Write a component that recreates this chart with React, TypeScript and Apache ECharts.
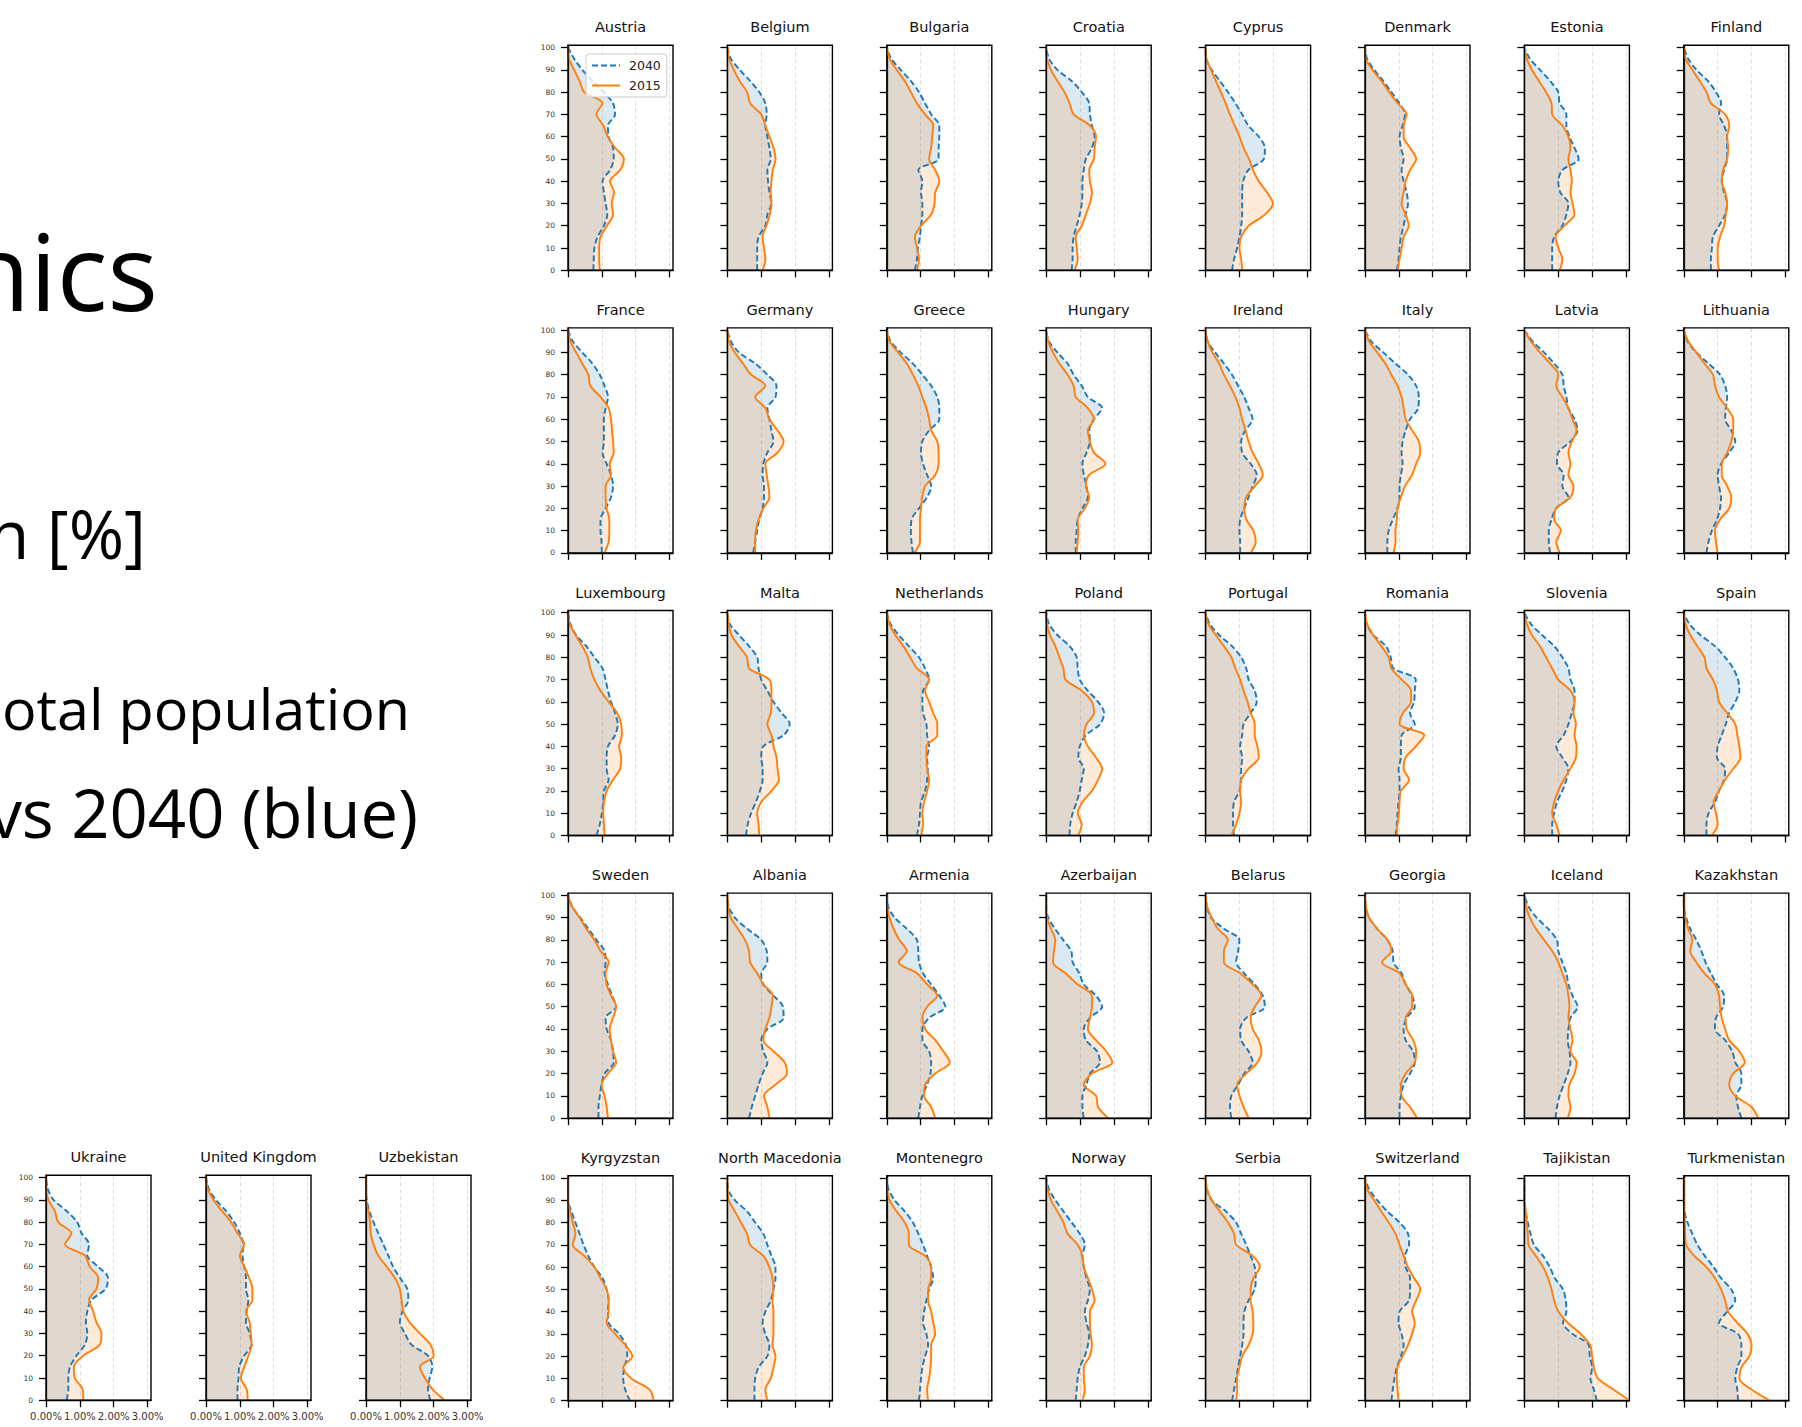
import React, { useEffect, useRef } from 'react';
import * as echarts from 'echarts';

// ---------- data ----------
const AGES = [0, 5, 10, 15, 20, 25, 30, 35, 40, 45, 50, 55, 60, 65, 70, 75, 80, 85, 90, 95, 100];
const X_TICKS = [0, 1, 2, 3];
const AGE_CATEGORIES = Array.from({ length: 102 }, (_, i) => String(i));
const SERIES_NAMES = ['2040', '2015'];

const AUSTRIA_2015 = [0.94, 0.92, 0.92, 0.96, 1.15, 1.33, 1.29, 1.36, 1.24, 1.54, 1.65, 1.39, 1.17, 1.04, 0.84, 1.02, 0.48, 0.34, 0.18, 0.03, 0];
const AUSTRIA_2040 = [0.75, 0.76, 0.78, 0.87, 1.06, 1.16, 1.11, 1.06, 1.02, 1.24, 1.35, 1.33, 1.2, 1.18, 1.39, 1.33, 1.05, 0.72, 0.42, 0.18, 0];
const BELGIUM_2015 = [1.04, 1.12, 1.08, 1.04, 1.15, 1.25, 1.3, 1.28, 1.3, 1.34, 1.42, 1.36, 1.24, 1.12, 1.0, 0.67, 0.58, 0.36, 0.19, 0.05, 0];
const BELGIUM_2040 = [0.88, 0.88, 0.88, 0.92, 1.12, 1.18, 1.3, 1.24, 1.2, 1.18, 1.28, 1.24, 1.18, 1.12, 1.16, 1.12, 0.94, 0.67, 0.36, 0.1, 0];
const BULGARIA_2015 = [0.89, 0.95, 0.89, 0.83, 1.01, 1.31, 1.41, 1.43, 1.55, 1.43, 1.25, 1.31, 1.34, 1.37, 1.13, 0.89, 0.71, 0.53, 0.29, 0.08, 0];
const BULGARIA_2040 = [0.83, 0.89, 0.92, 0.98, 1.01, 1.05, 1.05, 1.01, 1.05, 0.93, 1.53, 1.53, 1.55, 1.55, 1.31, 1.13, 0.95, 0.71, 0.41, 0.13, 0];
const CROATIA_2015 = [0.83, 0.93, 0.9, 0.87, 1.05, 1.17, 1.29, 1.35, 1.29, 1.27, 1.41, 1.43, 1.47, 1.29, 0.81, 0.69, 0.54, 0.33, 0.14, 0.02, 0];
const CROATIA_2040 = [0.75, 0.78, 0.78, 0.81, 0.9, 0.99, 1.05, 1.07, 1.07, 1.11, 1.17, 1.35, 1.43, 1.35, 1.29, 1.27, 1.05, 0.75, 0.33, 0.08, 0];
const CYPRUS_2015 = [1.08, 1.05, 1.0, 1.05, 1.27, 1.75, 1.99, 1.81, 1.57, 1.4, 1.28, 1.12, 1.0, 0.86, 0.72, 0.59, 0.45, 0.3, 0.16, 0.02, 0];
const CYPRUS_2040 = [0.78, 0.84, 0.93, 1.0, 1.05, 1.08, 1.08, 1.08, 1.11, 1.26, 1.72, 1.75, 1.57, 1.26, 1.08, 0.88, 0.66, 0.42, 0.18, 0.02, 0];
const DENMARK_2015 = [0.96, 1.02, 1.08, 1.14, 1.29, 1.2, 1.08, 1.14, 1.2, 1.33, 1.51, 1.33, 1.14, 1.14, 1.23, 0.96, 0.72, 0.48, 0.22, 0.02, 0];
const DENMARK_2040 = [0.94, 0.99, 1.02, 1.06, 1.14, 1.2, 1.27, 1.23, 1.14, 1.08, 1.14, 1.06, 1.02, 1.11, 1.18, 1.02, 0.78, 0.54, 0.27, 0.06, 0];
const ESTONIA_2015 = [1.04, 1.12, 1.0, 0.92, 1.18, 1.48, 1.42, 1.36, 1.4, 1.36, 1.3, 1.36, 1.3, 1.12, 0.82, 0.8, 0.64, 0.43, 0.22, 0.07, 0];
const ESTONIA_2040 = [0.82, 0.82, 0.82, 0.88, 1.12, 1.24, 1.3, 1.06, 1.0, 1.12, 1.6, 1.48, 1.33, 1.24, 1.24, 1.04, 1.0, 0.76, 0.46, 0.16, 0];
const FINLAND_2015 = [1.04, 1.0, 1.0, 1.07, 1.19, 1.24, 1.28, 1.22, 1.12, 1.16, 1.28, 1.31, 1.28, 1.34, 1.22, 0.8, 0.67, 0.47, 0.25, 0.05, 0];
const FINLAND_2040 = [0.8, 0.8, 0.83, 0.86, 1.04, 1.22, 1.28, 1.19, 1.12, 1.19, 1.28, 1.28, 1.28, 1.19, 1.04, 1.1, 0.95, 0.71, 0.37, 0.13, 0];
const FRANCE_2015 = [1.08, 1.2, 1.22, 1.22, 1.14, 1.11, 1.11, 1.27, 1.23, 1.35, 1.33, 1.3, 1.27, 1.2, 0.96, 0.66, 0.6, 0.42, 0.24, 0.07, 0];
const FRANCE_2040 = [1.0, 0.99, 0.96, 0.96, 1.11, 1.27, 1.33, 1.27, 1.14, 1.02, 1.06, 1.06, 1.06, 1.11, 1.18, 1.08, 0.94, 0.72, 0.42, 0.14, 0];
const GERMANY_2015 = [0.82, 0.82, 0.84, 0.92, 1.06, 1.24, 1.21, 1.16, 1.12, 1.48, 1.66, 1.48, 1.24, 1.12, 0.82, 1.12, 0.7, 0.46, 0.22, 0.04, 0];
const GERMANY_2040 = [0.76, 0.82, 0.88, 0.94, 1.04, 1.08, 1.08, 1.04, 1.06, 1.18, 1.36, 1.3, 1.24, 1.18, 1.42, 1.45, 1.18, 0.82, 0.34, 0.1, 0];
const GREECE_2015 = [0.81, 0.98, 0.98, 0.98, 1.01, 1.05, 1.13, 1.43, 1.53, 1.53, 1.49, 1.31, 1.25, 1.17, 1.05, 0.93, 0.77, 0.59, 0.33, 0.08, 0];
const GREECE_2040 = [0.77, 0.73, 0.71, 0.73, 0.95, 1.19, 1.31, 1.19, 1.07, 1.01, 1.05, 1.25, 1.55, 1.55, 1.49, 1.31, 1.05, 0.77, 0.41, 0.11, 0];
const HUNGARY_2015 = [0.9, 0.93, 0.95, 0.93, 1.14, 1.27, 1.17, 1.27, 1.75, 1.41, 1.29, 1.23, 1.41, 1.23, 0.87, 0.81, 0.63, 0.39, 0.2, 0.06, 0];
const HUNGARY_2040 = [0.87, 0.87, 0.9, 0.93, 1.07, 1.23, 1.19, 1.11, 1.07, 1.19, 1.29, 1.27, 1.41, 1.65, 1.23, 1.05, 0.81, 0.63, 0.33, 0.08, 0];
const IRELAND_2015 = [1.33, 1.48, 1.41, 1.2, 1.14, 1.2, 1.45, 1.69, 1.57, 1.39, 1.27, 1.18, 1.08, 1.0, 0.88, 0.72, 0.54, 0.4, 0.2, 0.06, 0];
const IRELAND_2040 = [1.02, 1.02, 1.0, 1.02, 1.14, 1.27, 1.39, 1.51, 1.33, 1.08, 1.05, 1.17, 1.39, 1.27, 1.14, 0.96, 0.78, 0.54, 0.28, 0.06, 0];
const ITALY_2015 = [0.84, 0.9, 0.9, 0.94, 0.96, 1.06, 1.18, 1.39, 1.51, 1.63, 1.59, 1.39, 1.2, 1.14, 1.08, 0.96, 0.78, 0.6, 0.36, 0.12, 0];
const ITALY_2040 = [0.66, 0.66, 0.7, 0.82, 0.96, 1.02, 1.02, 1.06, 1.11, 1.08, 1.11, 1.2, 1.33, 1.57, 1.59, 1.51, 1.27, 0.9, 0.54, 0.18, 0];
const LATVIA_2015 = [1.04, 0.94, 1.08, 0.88, 0.94, 1.36, 1.45, 1.3, 1.36, 1.3, 1.4, 1.54, 1.42, 1.3, 1.12, 0.94, 1.0, 0.76, 0.46, 0.19, 0];
const LATVIA_2040 = [0.76, 0.72, 0.72, 0.8, 0.94, 1.3, 1.12, 1.16, 0.96, 1.0, 1.36, 1.57, 1.48, 1.3, 1.24, 1.16, 1.12, 0.88, 0.58, 0.24, 0];
const LITHUANIA_2015 = [1.0, 0.95, 0.92, 1.07, 1.34, 1.4, 1.28, 1.12, 1.12, 1.28, 1.4, 1.46, 1.46, 1.28, 1.04, 0.92, 0.86, 0.61, 0.37, 0.13, 0];
const LITHUANIA_2040 = [0.67, 0.73, 0.83, 0.98, 1.07, 1.1, 1.04, 1.0, 1.1, 1.34, 1.52, 1.4, 1.22, 1.24, 1.28, 1.22, 1.07, 0.73, 0.37, 0.11, 0];
const LUXEMBOURG_2015 = [1.08, 1.06, 1.04, 1.06, 1.14, 1.33, 1.54, 1.57, 1.51, 1.59, 1.57, 1.45, 1.2, 0.96, 0.78, 0.66, 0.58, 0.42, 0.22, 0.05, 0];
const LUXEMBOURG_2040 = [0.84, 0.94, 1.0, 1.04, 1.06, 1.2, 1.14, 1.14, 1.18, 1.39, 1.47, 1.39, 1.27, 1.18, 1.11, 1.02, 0.78, 0.54, 0.24, 0.07, 0];
const MALTA_2015 = [0.94, 0.92, 0.88, 1.0, 1.3, 1.52, 1.48, 1.45, 1.36, 1.3, 1.18, 1.28, 1.3, 1.3, 1.24, 0.64, 0.58, 0.34, 0.12, 0.04, 0];
const MALTA_2040 = [0.55, 0.6, 0.7, 0.84, 0.96, 1.04, 1.04, 1.0, 1.06, 1.66, 1.84, 1.6, 1.36, 1.18, 1.0, 0.92, 0.88, 0.64, 0.34, 0.07, 0];
const NETHERLANDS_2015 = [1.01, 1.07, 1.05, 1.1, 1.19, 1.25, 1.19, 1.17, 1.17, 1.49, 1.49, 1.37, 1.25, 1.13, 1.25, 0.89, 0.69, 0.49, 0.25, 0.08, 0];
const NETHERLANDS_2040 = [0.89, 0.95, 0.98, 1.01, 1.13, 1.19, 1.21, 1.19, 1.25, 1.19, 1.17, 1.07, 1.05, 1.07, 1.25, 1.13, 0.95, 0.65, 0.35, 0.11, 0];
const POLAND_2015 = [0.95, 1.05, 0.93, 1.07, 1.35, 1.53, 1.65, 1.47, 1.23, 1.11, 1.19, 1.41, 1.35, 1.05, 0.57, 0.51, 0.39, 0.27, 0.11, 0.02, 0];
const POLAND_2040 = [0.69, 0.71, 0.78, 0.9, 0.99, 1.05, 1.11, 0.95, 0.99, 1.17, 1.59, 1.71, 1.53, 1.23, 0.99, 0.93, 0.9, 0.69, 0.33, 0.08, 0];
const PORTUGAL_2015 = [0.76, 0.9, 1.0, 1.05, 1.02, 1.05, 1.27, 1.57, 1.53, 1.45, 1.45, 1.33, 1.24, 1.12, 1.02, 0.88, 0.76, 0.54, 0.3, 0.08, 0];
const PORTUGAL_2040 = [0.84, 0.81, 0.81, 0.84, 1.0, 1.05, 1.05, 1.08, 1.02, 1.08, 1.12, 1.33, 1.51, 1.45, 1.27, 1.2, 1.05, 0.78, 0.4, 0.12, 0];
const ROMANIA_2015 = [0.94, 0.96, 1.0, 1.02, 1.06, 1.3, 1.14, 1.2, 1.5, 1.75, 1.02, 1.12, 1.36, 1.36, 1.08, 0.78, 0.7, 0.48, 0.24, 0.06, 0];
const ROMANIA_2040 = [0.9, 0.94, 0.96, 0.99, 1.02, 1.02, 0.99, 1.06, 1.06, 1.08, 1.47, 1.33, 1.45, 1.47, 1.5, 0.84, 0.76, 0.62, 0.24, 0.05, 0];
const SLOVENIA_2015 = [1.04, 0.94, 0.82, 0.88, 1.0, 1.16, 1.36, 1.52, 1.54, 1.48, 1.52, 1.45, 1.48, 1.36, 1.0, 0.82, 0.64, 0.46, 0.22, 0.07, 0];
const SLOVENIA_2040 = [0.82, 0.82, 0.88, 0.96, 1.12, 1.24, 1.3, 1.12, 0.94, 1.16, 1.3, 1.4, 1.48, 1.48, 1.36, 1.3, 1.12, 0.88, 0.52, 0.19, 0];
const SPAIN_2015 = [0.83, 1.0, 0.95, 0.88, 1.04, 1.22, 1.46, 1.67, 1.64, 1.58, 1.52, 1.28, 1.04, 0.98, 0.86, 0.67, 0.61, 0.4, 0.19, 0.05, 0];
const SPAIN_2040 = [0.67, 0.67, 0.73, 0.92, 1.04, 1.19, 1.22, 0.98, 1.0, 1.12, 1.24, 1.34, 1.52, 1.64, 1.6, 1.46, 1.22, 0.92, 0.49, 0.16, 0];
const SWEDEN_2015 = [1.18, 1.14, 1.08, 0.99, 1.18, 1.42, 1.33, 1.27, 1.23, 1.33, 1.42, 1.27, 1.14, 1.11, 1.2, 0.96, 0.78, 0.54, 0.34, 0.12, 0];
const SWEDEN_2040 = [0.9, 0.9, 0.94, 0.99, 1.08, 1.35, 1.33, 1.27, 1.14, 1.11, 1.42, 1.3, 1.18, 1.08, 1.11, 1.08, 0.84, 0.6, 0.36, 0.12, 0];
const ALBANIA_2015 = [1.24, 1.18, 1.08, 1.42, 1.76, 1.69, 1.36, 1.06, 1.12, 1.24, 1.3, 1.34, 1.06, 0.88, 0.67, 0.64, 0.52, 0.31, 0.1, 0.02, 0];
const ALBANIA_2040 = [0.64, 0.72, 0.82, 0.92, 1.04, 1.18, 1.06, 1.0, 1.18, 1.66, 1.64, 1.36, 1.06, 1.0, 1.18, 1.16, 1.0, 0.58, 0.22, 0.04, 0];
const ARMENIA_2015 = [1.43, 1.31, 1.1, 1.13, 1.43, 1.86, 1.67, 1.43, 1.13, 1.05, 1.19, 1.49, 1.19, 0.89, 0.35, 0.59, 0.37, 0.2, 0.08, 0.01, 0];
const ARMENIA_2040 = [0.93, 0.98, 1.05, 1.19, 1.29, 1.31, 1.25, 1.05, 1.05, 1.25, 1.73, 1.55, 1.31, 1.07, 0.95, 0.93, 0.89, 0.59, 0.23, 0.04, 0];
const AZERBAIJAN_2015 = [1.83, 1.53, 1.47, 1.11, 1.35, 1.95, 1.77, 1.47, 1.23, 1.29, 1.35, 1.35, 0.93, 0.57, 0.2, 0.23, 0.27, 0.14, 0.02, 0, 0];
const AZERBAIJAN_2040 = [1.11, 1.07, 1.07, 1.19, 1.29, 1.59, 1.5, 1.17, 1.11, 1.29, 1.65, 1.47, 1.11, 0.98, 0.78, 0.74, 0.5, 0.26, 0.06, 0, 0];
const BELARUS_2015 = [1.27, 1.12, 1.0, 0.93, 1.2, 1.53, 1.65, 1.57, 1.39, 1.33, 1.45, 1.65, 1.39, 1.02, 0.54, 0.54, 0.66, 0.36, 0.18, 0.04, 0];
const BELARUS_2040 = [0.76, 0.72, 0.76, 0.96, 1.14, 1.39, 1.27, 1.05, 1.02, 1.2, 1.75, 1.69, 1.45, 1.14, 0.9, 0.96, 1.0, 0.54, 0.16, 0.04, 0];
const GEORGIA_2015 = [1.54, 1.33, 1.08, 1.06, 1.2, 1.47, 1.51, 1.42, 1.23, 1.2, 1.39, 1.39, 1.2, 1.02, 0.5, 0.78, 0.66, 0.36, 0.12, 0.02, 0];
const GEORGIA_2040 = [1.02, 1.02, 1.06, 1.14, 1.33, 1.47, 1.42, 1.2, 1.14, 1.23, 1.47, 1.39, 1.2, 1.08, 0.84, 0.82, 0.66, 0.36, 0.12, 0.02, 0];
const ICELAND_2015 = [1.28, 1.36, 1.3, 1.33, 1.48, 1.54, 1.36, 1.42, 1.36, 1.3, 1.33, 1.3, 1.24, 1.12, 1.0, 0.82, 0.58, 0.34, 0.16, 0.05, 0];
const ICELAND_2040 = [0.92, 0.96, 1.04, 1.16, 1.28, 1.36, 1.33, 1.28, 1.3, 1.36, 1.57, 1.42, 1.3, 1.24, 1.12, 1.0, 0.96, 0.7, 0.36, 0.12, 0];
const KAZAKHSTAN_2015 = [2.2, 2.0, 1.52, 1.34, 1.46, 1.8, 1.64, 1.34, 1.22, 1.12, 1.07, 1.04, 0.92, 0.61, 0.37, 0.19, 0.25, 0.13, 0.04, 0, 0];
const KAZAKHSTAN_2040 = [1.7, 1.6, 1.55, 1.7, 1.7, 1.52, 1.43, 1.22, 0.92, 0.95, 1.16, 1.19, 0.98, 0.8, 0.64, 0.52, 0.37, 0.19, 0.07, 0, 0];
const KYRGYZSTAN_2015 = [2.53, 2.41, 1.87, 1.63, 1.9, 1.69, 1.39, 1.14, 1.2, 1.2, 1.14, 0.96, 0.78, 0.48, 0.14, 0.22, 0.14, 0.06, 0, 0, 0];
const KYRGYZSTAN_2040 = [1.83, 1.69, 1.63, 1.66, 1.75, 1.71, 1.51, 1.2, 1.18, 1.2, 1.14, 1.02, 0.78, 0.6, 0.46, 0.34, 0.22, 0.1, 0, 0, 0];
const NORTH_MACEDONIA_2015 = [1.18, 1.12, 1.28, 1.36, 1.42, 1.33, 1.36, 1.36, 1.36, 1.33, 1.36, 1.33, 1.24, 1.06, 0.67, 0.58, 0.4, 0.22, 0.04, 0, 0];
const NORTH_MACEDONIA_2040 = [0.8, 0.8, 0.82, 0.92, 1.18, 1.24, 1.12, 1.04, 1.12, 1.28, 1.36, 1.42, 1.42, 1.3, 1.18, 1.06, 0.82, 0.58, 0.22, 0.02, 0];
const MONTENEGRO_2015 = [1.22, 1.19, 1.25, 1.29, 1.31, 1.31, 1.43, 1.37, 1.31, 1.22, 1.22, 1.31, 1.31, 1.13, 0.65, 0.65, 0.53, 0.29, 0.08, 0.01, 0];
const MONTENEGRO_2040 = [0.95, 0.98, 1.01, 1.05, 1.13, 1.22, 1.17, 1.07, 1.1, 1.17, 1.25, 1.37, 1.31, 1.19, 1.07, 0.93, 0.77, 0.53, 0.23, 0.05, 0];
const NORWAY_2015 = [1.07, 1.14, 1.11, 1.11, 1.29, 1.35, 1.31, 1.29, 1.29, 1.43, 1.35, 1.23, 1.11, 1.07, 0.93, 0.63, 0.51, 0.33, 0.14, 0.04, 0];
const NORWAY_2040 = [0.87, 0.9, 0.93, 0.99, 1.14, 1.23, 1.27, 1.19, 1.14, 1.23, 1.29, 1.19, 1.11, 1.07, 1.14, 0.99, 0.75, 0.51, 0.27, 0.08, 0];
const SERBIA_2015 = [0.9, 0.93, 0.93, 1.0, 1.08, 1.27, 1.39, 1.41, 1.39, 1.33, 1.33, 1.41, 1.6, 1.39, 0.9, 0.84, 0.66, 0.42, 0.18, 0.04, 0];
const SERBIA_2040 = [0.78, 0.84, 0.9, 0.96, 1.02, 1.08, 1.12, 1.12, 1.14, 1.27, 1.45, 1.48, 1.45, 1.33, 1.2, 1.05, 0.9, 0.6, 0.18, 0.04, 0];
const SWITZERLAND_2015 = [0.99, 0.96, 0.94, 0.96, 1.11, 1.27, 1.39, 1.47, 1.39, 1.51, 1.63, 1.45, 1.27, 1.14, 1.02, 0.9, 0.7, 0.48, 0.27, 0.06, 0];
const SWITZERLAND_2040 = [0.78, 0.82, 0.87, 0.94, 1.06, 1.14, 1.08, 0.99, 1.02, 1.3, 1.33, 1.33, 1.2, 1.18, 1.3, 1.27, 1.02, 0.66, 0.36, 0.12, 0];
const TAJIKISTAN_2015 = [3.11, 2.63, 2.17, 2.05, 2.0, 1.94, 1.66, 1.28, 1.0, 0.88, 0.8, 0.7, 0.55, 0.34, 0.12, 0.1, 0.07, 0.04, 0, 0, 0];
const TAJIKISTAN_2040 = [2.14, 2.05, 1.95, 2.0, 1.93, 1.9, 1.42, 1.14, 1.24, 1.22, 1.14, 0.9, 0.75, 0.55, 0.28, 0.18, 0.1, 0.04, 0, 0, 0];
const TURKMENISTAN_2015 = [2.54, 2.0, 1.64, 1.7, 1.94, 2.0, 1.88, 1.58, 1.31, 1.22, 1.1, 0.92, 0.67, 0.31, 0.07, 0.04, 0.03, 0.01, 0, 0, 0];
const TURKMENISTAN_2040 = [1.6, 1.58, 1.52, 1.58, 1.7, 1.7, 1.6, 1.04, 1.28, 1.52, 1.4, 1.1, 0.88, 0.62, 0.4, 0.25, 0.11, 0.02, 0, 0, 0];
const UKRAINE_2015 = [1.1, 1.08, 0.85, 0.82, 1.1, 1.59, 1.64, 1.49, 1.39, 1.27, 1.49, 1.54, 1.29, 1.15, 0.56, 0.75, 0.36, 0.26, 0.07, 0, 0];
const UKRAINE_2040 = [0.61, 0.66, 0.66, 0.71, 0.9, 1.15, 1.22, 1.18, 1.22, 1.34, 1.76, 1.83, 1.54, 1.22, 1.27, 1.05, 0.92, 0.61, 0.22, 0.05, 0];
const UNITED_KINGDOM_2015 = [1.23, 1.2, 1.03, 1.13, 1.25, 1.35, 1.32, 1.29, 1.18, 1.37, 1.37, 1.27, 1.13, 1.0, 1.13, 0.93, 0.74, 0.47, 0.22, 0.05, 0];
const UNITED_KINGDOM_2040 = [0.93, 0.93, 0.96, 0.98, 1.13, 1.35, 1.29, 1.18, 1.2, 1.25, 1.18, 1.18, 1.13, 1.08, 1.1, 1.0, 0.83, 0.59, 0.29, 0.08, 0];
const UZBEKISTAN_2015 = [2.32, 1.96, 1.74, 1.59, 2.0, 1.9, 1.59, 1.29, 1.1, 1.05, 1.0, 0.85, 0.61, 0.36, 0.22, 0.14, 0.12, 0.07, 0, 0, 0];
const UZBEKISTAN_2040 = [1.9, 1.83, 1.88, 1.96, 1.83, 1.34, 1.15, 1.0, 1.08, 1.25, 1.22, 1.0, 0.8, 0.66, 0.51, 0.36, 0.22, 0.1, 0.02, 0, 0];

type Panel = { name: string; y2015: number[]; y2040: number[] };

const MAIN_PANELS: Panel[] = [
  { name: 'Austria', y2015: AUSTRIA_2015, y2040: AUSTRIA_2040 },
  { name: 'Belgium', y2015: BELGIUM_2015, y2040: BELGIUM_2040 },
  { name: 'Bulgaria', y2015: BULGARIA_2015, y2040: BULGARIA_2040 },
  { name: 'Croatia', y2015: CROATIA_2015, y2040: CROATIA_2040 },
  { name: 'Cyprus', y2015: CYPRUS_2015, y2040: CYPRUS_2040 },
  { name: 'Denmark', y2015: DENMARK_2015, y2040: DENMARK_2040 },
  { name: 'Estonia', y2015: ESTONIA_2015, y2040: ESTONIA_2040 },
  { name: 'Finland', y2015: FINLAND_2015, y2040: FINLAND_2040 },
  { name: 'France', y2015: FRANCE_2015, y2040: FRANCE_2040 },
  { name: 'Germany', y2015: GERMANY_2015, y2040: GERMANY_2040 },
  { name: 'Greece', y2015: GREECE_2015, y2040: GREECE_2040 },
  { name: 'Hungary', y2015: HUNGARY_2015, y2040: HUNGARY_2040 },
  { name: 'Ireland', y2015: IRELAND_2015, y2040: IRELAND_2040 },
  { name: 'Italy', y2015: ITALY_2015, y2040: ITALY_2040 },
  { name: 'Latvia', y2015: LATVIA_2015, y2040: LATVIA_2040 },
  { name: 'Lithuania', y2015: LITHUANIA_2015, y2040: LITHUANIA_2040 },
  { name: 'Luxembourg', y2015: LUXEMBOURG_2015, y2040: LUXEMBOURG_2040 },
  { name: 'Malta', y2015: MALTA_2015, y2040: MALTA_2040 },
  { name: 'Netherlands', y2015: NETHERLANDS_2015, y2040: NETHERLANDS_2040 },
  { name: 'Poland', y2015: POLAND_2015, y2040: POLAND_2040 },
  { name: 'Portugal', y2015: PORTUGAL_2015, y2040: PORTUGAL_2040 },
  { name: 'Romania', y2015: ROMANIA_2015, y2040: ROMANIA_2040 },
  { name: 'Slovenia', y2015: SLOVENIA_2015, y2040: SLOVENIA_2040 },
  { name: 'Spain', y2015: SPAIN_2015, y2040: SPAIN_2040 },
  { name: 'Sweden', y2015: SWEDEN_2015, y2040: SWEDEN_2040 },
  { name: 'Albania', y2015: ALBANIA_2015, y2040: ALBANIA_2040 },
  { name: 'Armenia', y2015: ARMENIA_2015, y2040: ARMENIA_2040 },
  { name: 'Azerbaijan', y2015: AZERBAIJAN_2015, y2040: AZERBAIJAN_2040 },
  { name: 'Belarus', y2015: BELARUS_2015, y2040: BELARUS_2040 },
  { name: 'Georgia', y2015: GEORGIA_2015, y2040: GEORGIA_2040 },
  { name: 'Iceland', y2015: ICELAND_2015, y2040: ICELAND_2040 },
  { name: 'Kazakhstan', y2015: KAZAKHSTAN_2015, y2040: KAZAKHSTAN_2040 },
  { name: 'Kyrgyzstan', y2015: KYRGYZSTAN_2015, y2040: KYRGYZSTAN_2040 },
  { name: 'North Macedonia', y2015: NORTH_MACEDONIA_2015, y2040: NORTH_MACEDONIA_2040 },
  { name: 'Montenegro', y2015: MONTENEGRO_2015, y2040: MONTENEGRO_2040 },
  { name: 'Norway', y2015: NORWAY_2015, y2040: NORWAY_2040 },
  { name: 'Serbia', y2015: SERBIA_2015, y2040: SERBIA_2040 },
  { name: 'Switzerland', y2015: SWITZERLAND_2015, y2040: SWITZERLAND_2040 },
  { name: 'Tajikistan', y2015: TAJIKISTAN_2015, y2040: TAJIKISTAN_2040 },
  { name: 'Turkmenistan', y2015: TURKMENISTAN_2015, y2040: TURKMENISTAN_2040 },
];

const EXTRA_PANELS: Panel[] = [
  { name: 'Ukraine', y2015: UKRAINE_2015, y2040: UKRAINE_2040 },
  { name: 'United Kingdom', y2015: UNITED_KINGDOM_2015, y2040: UNITED_KINGDOM_2040 },
  { name: 'Uzbekistan', y2015: UZBEKISTAN_2015, y2040: UZBEKISTAN_2040 },
];

const SLIDE_LINES = ['nics', 'n [%]', 'otal population', 'vs 2040 (blue)'];

// ---------- styling / layout ----------
const BLUE = '#1f77b4';
const ORANGE = '#ff7f0e';
const PANEL_W = 105;
const PANEL_H = 225;
const MAIN_LEFT = 568;
const MAIN_TOP = 45.3;
const COL_PITCH = 159.4;
const ROW_PITCH = 282.6;
const EXTRA_LEFT = 46;
const EXTRA_PITCH = 160;
const EXTRA_TOP = 1175.3;
const FONT = 'DejaVu Sans';

type Layout = Panel & { left: number; top: number; yLabels: boolean; xLabels: boolean };

function buildOption() {
  const layouts: Layout[] = [];
  MAIN_PANELS.forEach((p, i) => {
    const r = Math.floor(i / 8);
    const c = i % 8;
    layouts.push({ ...p, left: MAIN_LEFT + c * COL_PITCH, top: MAIN_TOP + r * ROW_PITCH, yLabels: c === 0, xLabels: false });
  });
  EXTRA_PANELS.forEach((p, i) => {
    layouts.push({ ...p, left: EXTRA_LEFT + i * EXTRA_PITCH, top: EXTRA_TOP, yLabels: i === 0, xLabels: true });
  });

  const axisLineStyle = { color: '#000', width: 1.3 };
  const tickEvery10 = (idx: number) => idx % 10 === 0;

  const grid: any[] = [];
  const xAxis: any[] = [];
  const yAxis: any[] = [];
  const series: any[] = [];
  const graphic: any[] = [];

  layouts.forEach((p, i) => {
    grid.push({
      left: p.left,
      top: p.top,
      width: PANEL_W,
      height: PANEL_H,
      show: true,
      z: 3,
      borderColor: '#000',
      borderWidth: 1.4,
      backgroundColor: 'transparent',
      containLabel: false,
      outerBoundsMode: 'none',
    });
    xAxis.push({
      gridIndex: i,
      type: 'value',
      min: 0,
      max: 3.1,
      interval: 1,
      axisLine: { show: true, onZero: false, lineStyle: axisLineStyle },
      axisTick: { show: true, length: 7, customValues: X_TICKS, lineStyle: axisLineStyle },
      axisLabel: {
        show: p.xLabels,
        customValues: X_TICKS,
        hideOverlap: false,
        formatter: (v: number) => v.toFixed(2) + '%',
        fontSize: 10,
        fontFamily: FONT,
        color: '#333',
        margin: 11,
      },
      splitLine: { show: true, lineStyle: { color: 'rgba(0,0,0,0.13)', type: [4, 3], width: 1 } },
    });
    yAxis.push({
      gridIndex: i,
      type: 'category',
      data: AGE_CATEGORIES,
      boundaryGap: false,
      axisLine: { show: true, onZero: false, lineStyle: axisLineStyle },
      axisTick: { show: true, length: 7, interval: tickEvery10, lineStyle: axisLineStyle },
      axisLabel: {
        show: p.yLabels,
        interval: tickEvery10,
        fontSize: 7.5,
        fontFamily: FONT,
        color: '#333',
        margin: 13,
      },
      splitLine: { show: false },
    });
    series.push({
      type: 'line',
      name: SERIES_NAMES[0],
      xAxisIndex: i,
      yAxisIndex: i,
      data: AGES.map((a, k) => [p.y2040[k], a]),
      smooth: 0.3,
      symbol: 'none',
      silent: true,
      lineStyle: { color: BLUE, width: 1.9, type: [6, 3] },
      itemStyle: { color: BLUE },
      areaStyle: { color: 'rgba(31,119,180,0.23)', origin: 'start' },
      z: 2,
    });
    series.push({
      type: 'line',
      name: SERIES_NAMES[1],
      xAxisIndex: i,
      yAxisIndex: i,
      data: AGES.map((a, k) => [p.y2015[k], a]),
      smooth: 0.3,
      symbol: 'none',
      silent: true,
      lineStyle: { color: ORANGE, width: 1.9 },
      itemStyle: { color: ORANGE },
      areaStyle: { color: 'rgba(255,127,14,0.23)', origin: 'start' },
      z: 2,
    });
    graphic.push({
      type: 'text',
      x: p.left + PANEL_W / 2,
      y: p.top - 18,
      silent: true,
      style: {
        text: p.name,
        fontSize: 14.5,
        fontFamily: FONT,
        fill: '#111',
        align: 'center',
        verticalAlign: 'middle',
      },
    });
  });

  const slidePos = [
    { x: 158, y: 270, size: 106 },
    { x: 146, y: 533, size: 67 },
    { x: 410, y: 708, size: 57.5 },
    { x: 418, y: 812, size: 67 },
  ];
  SLIDE_LINES.forEach((t, i) => {
    graphic.push({
      type: 'text',
      x: slidePos[i].x,
      y: slidePos[i].y,
      silent: true,
      style: {
        text: t,
        fontSize: slidePos[i].size,
        fontFamily: 'Open Sans',
        fill: '#000',
        align: 'right',
        verticalAlign: 'middle',
      },
    });
  });

  return {
    animation: false,
    backgroundColor: '#ffffff',
    textStyle: { fontFamily: FONT },
    grid,
    xAxis,
    yAxis,
    series,
    graphic,
    legend: {
      data: SERIES_NAMES,
      orient: 'vertical',
      left: 586,
      top: 54,
      padding: [5, 6, 5, 5],
      itemWidth: 28,
      itemHeight: 12,
      itemGap: 7,
      selectedMode: false,
      backgroundColor: 'rgba(255,255,255,0.8)',
      borderColor: '#cccccc',
      borderWidth: 1,
      borderRadius: 3,
      itemStyle: { opacity: 0 },
      textStyle: { fontSize: 12.5, fontFamily: FONT, color: '#222', padding: [0, 0, 0, 4] },
      z: 10,
    },
  };
}

export default function App() {
  const ref = useRef<HTMLDivElement>(null);
  useEffect(() => {
    document.body.style.margin = '0';
    document.body.style.overflow = 'hidden';
    document.body.style.background = '#fff';
    if (!ref.current) return;
    const chart = echarts.init(ref.current, undefined, { renderer: 'svg' });
    chart.setOption(buildOption() as any);
    return () => chart.dispose();
  }, []);
  return <div ref={ref} style={{ width: 1802, height: 1427 }} />;
}
